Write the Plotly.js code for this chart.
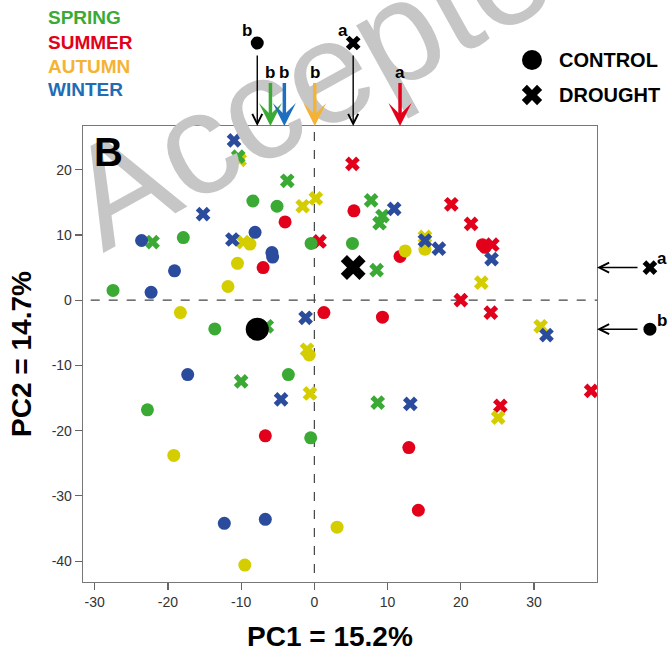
<!DOCTYPE html>
<html>
<head>
<meta charset="utf-8">
<script src="https://cdn.plot.ly/plotly-3.0.1.min.js"></script>
<style>html,body{margin:0;padding:0;background:#fff;}#chart{width:670px;height:663px;}</style>
</head>
<body>
<div id="chart"></div>
<script>
// ---- data (PC1, PC2 scores) ----
const springCtrlX = [-8.4, -5.1, -17.9, -0.45, 5.2, -27.5, -13.6, -3.55, -22.8, -0.5];
const springCtrlY = [15.2, 14.4, 9.6, 8.7, 8.7, 1.5, -4.4, -11.4, -16.8, -21.1];
const springDrX = [-10.4, -3.7, -22.1, -6.5, -10.0, 7.75, 9.3, 8.9, 8.5, 8.65];
const springDrY = [22.0, 18.3, 8.9, -4.0, -12.45, 15.3, 12.9, 11.8, 4.6, -15.7];

const summerCtrlX = [-4.0, -7.0, 1.3, 5.4, 11.7, 22.95, 23.3, 9.3, -6.7, 12.9, 14.2];
const summerCtrlY = [12.0, 5.0, -1.9, 13.7, 6.7, 8.5, 8.1, -2.6, -20.8, -22.6, -32.2];
const summerDrX = [0.7, 5.2, 18.7, 21.4, 24.3, 20.0, 24.1, 37.8, 25.4];
const summerDrY = [9.0, 20.9, 14.7, 11.7, 8.5, 0.0, -1.9, -13.9, -16.2];

const autumnCtrlX = [-8.8, -10.5, -11.8, -18.3, -0.7, 12.4, 15.1, -19.2, 3.1, -9.5];
const autumnCtrlY = [8.6, 5.65, 2.1, -1.9, -8.4, 7.55, 7.8, -23.8, -34.8, -40.6];
const autumnDrX = [-10.2, 0.2, -1.6, -9.7, -1.0, -0.6, 15.1, 22.8, 30.9, 25.1];
const autumnDrY = [21.5, 15.6, 14.4, 8.9, -7.6, -14.3, 9.7, 2.7, -4.0, -18.0];

const winterCtrlX = [-8.1, -23.6, -5.8, -5.7, -19.1, -22.3, -17.3, -12.3, -6.7];
const winterCtrlY = [10.4, 9.15, 7.3, 6.6, 4.5, 1.2, -11.4, -34.2, -33.6];
const winterDrX = [-10.97, -15.2, -11.2, -1.2, -4.55, 10.9, 15.1, 17.0, 24.2, 31.7, 13.1];
const winterDrY = [24.5, 13.2, 9.3, -2.7, -15.2, 14.0, 9.15, 7.9, 6.3, -5.35, -15.9];

// treatment centroids (CONTROL, DROUGHT)
const treatments = ['CONTROL', 'DROUGHT'];
const treatmentPC1 = [-7.8, 5.3];
const treatmentPC2 = [-4.45, 5.0];
const treatmentPC1Letters = ['b', 'a'];
const treatmentPC2Letters = ['b', 'a'];

// season means on PC1 (SPRING, SUMMER, AUTUMN, WINTER)
const seasons = ['SPRING', 'SUMMER', 'AUTUMN', 'WINTER'];
const seasonPC1 = [-6.0, 11.7, 0.05, -4.1];
const seasonLetters = ['b', 'a', 'b', 'b'];

// tick labels
const xTicks = [-30, -20, -10, 0, 10, 20, 30];
const yTicks = [-40, -30, -20, -10, 0, 10, 20];

// ---- styles ----
const FONT = 'Liberation Sans, Arial, sans-serif';
const pointCol = { SPRING: '#3aaa35', SUMMER: '#e2001a', AUTUMN: '#d4cd00', WINTER: '#2b4c9c' };
const textCol = { SPRING: '#3aaa35', SUMMER: '#e2001a', AUTUMN: '#f5b335', WINTER: '#1f6db5' };
const arrowCol = { SPRING: '#3aaa35', SUMMER: '#e2001a', AUTUMN: '#f5b335', WINTER: '#1f6fc0' };

function pts(x, y, season, sym) {
  return {
    type: 'scatter', mode: 'markers', x: x, y: y, showlegend: false, hoverinfo: 'skip',
    marker: { symbol: sym, size: 13, opacity: 1, color: pointCol[season], line: { width: 0 } }
  };
}

const traces = [
  pts(summerCtrlX, summerCtrlY, 'SUMMER', 'circle'),
  pts(summerDrX, summerDrY, 'SUMMER', 'x'),
  pts(autumnCtrlX, autumnCtrlY, 'AUTUMN', 'circle'),
  pts(autumnDrX, autumnDrY, 'AUTUMN', 'x'),
  pts(springCtrlX, springCtrlY, 'SPRING', 'circle'),
  pts(springDrX, springDrY, 'SPRING', 'x'),
  pts(winterCtrlX, winterCtrlY, 'WINTER', 'circle'),
  pts(winterDrX, winterDrY, 'WINTER', 'x'),
  // centroids
  { type: 'scatter', mode: 'markers', x: treatmentPC1, y: treatmentPC2, showlegend: false, hoverinfo: 'skip',
    marker: { symbol: ['circle', 'x'], size: [23, 22], opacity: 1, color: '#000', line: { width: 0 } } }
];

// ---- marks outside the plot area, drawn as pixel-sized shapes ----
function xPath(size) {
  const r = +(size * 0.2828).toFixed(2);
  const v = [[0, r], [r, 2 * r], [2 * r, r], [r, 0], [2 * r, -r], [r, -2 * r], [0, -r], [-r, -2 * r], [-2 * r, -r], [-r, 0], [-2 * r, r], [-r, 2 * r]];
  return v.map((p, i) => (i === 0 ? 'M' : 'L') + p[0] + ',' + p[1]).join(' ') + ' Z';
}
function markShape(kind, size, xref, xa, yref, ya) {
  const base = { xref: xref, yref: yref, xsizemode: 'pixel', ysizemode: 'pixel', xanchor: xa, yanchor: ya,
    fillcolor: '#000', line: { width: 0 }, layer: 'above' };
  if (kind === 'circle') {
    return Object.assign(base, { type: 'circle', x0: -size / 2, x1: size / 2, y0: -size / 2, y1: size / 2 });
  }
  return Object.assign(base, { type: 'path', path: xPath(size) });
}
const kinds = ['circle', 'x'];
const topMarkY = 1.182;     // paper y of the row above the plot
const rightMarkX = 1.103;   // paper x of the column right of the plot
const keyX = 0.8735, keyY = [1.1447, 1.068];

const shapes = [
  { type: 'line', xref: 'x', yref: 'paper', x0: 0, x1: 0, y0: 0.02, y1: 1, line: { color: '#444', width: 1.2, dash: 'dash' }, layer: 'below' },
  { type: 'line', xref: 'paper', yref: 'y', x0: 0.015, x1: 1, y0: 0, y1: 0, line: { color: '#444', width: 1.2, dash: 'dash' }, layer: 'below' }
];
treatments.forEach((t, i) => {
  shapes.push(markShape(kinds[i], 13, 'x', treatmentPC1[i], 'paper', topMarkY));
  shapes.push(markShape(kinds[i], 13, 'paper', rightMarkX, 'y', treatmentPC2[i]));
  shapes.push(markShape(kinds[i], i === 0 ? 20 : 18, 'paper', keyX, 'paper', keyY[i]));
});

const annotations = [];
// watermark
annotations.push({ xref: 'paper', yref: 'paper', x: 0.506, y: 1.138, text: 'Accepted', showarrow: false,
  textangle: -29, font: { family: FONT, size: 145, color: '#c6c6c6' }, xanchor: 'center', yanchor: 'middle' });
// panel letter
annotations.push({ xref: 'paper', yref: 'paper', x: 0.018, y: 0.995, xanchor: 'left', yanchor: 'top',
  text: '<b>B</b>', showarrow: false, font: { family: FONT, size: 40, color: '#000' } });
// season key
seasons.forEach((s, i) => {
  annotations.push({ xref: 'paper', yref: 'paper', x: (46 - 83) / 514, y: (582 - (18 + 24 * i)) / 456,
    xanchor: 'left', yanchor: 'middle', text: '<b>' + s + '</b>', showarrow: false,
    font: { family: FONT, size: 19, color: textCol[s] } });
});
// treatment key text
treatments.forEach((t, i) => {
  annotations.push({ xref: 'paper', yref: 'paper', x: (557 - 83) / 514, y: (582 - (60 + 35 * i)) / 456,
    xanchor: 'left', yanchor: 'middle', text: '<b>' + t + '</b>', showarrow: false,
    font: { family: FONT, size: 20, color: '#000' } });
});
// season arrows on top
seasons.forEach((s, i) => {
  annotations.push({ xref: 'x', yref: 'paper', x: seasonPC1[i], y: 1, ax: 0, ay: -54, axref: 'pixel', ayref: 'pixel',
    text: '<b>' + seasonLetters[i] + '</b>', showarrow: true, arrowhead: 3, arrowsize: 1.1, arrowwidth: 3.5,
    arrowcolor: arrowCol[s], standoff: 0, font: { family: FONT, size: 17, color: '#000' } });
});
// treatment arrows on top
treatments.forEach((t, i) => {
  annotations.push({ xref: 'x', yref: 'paper', x: treatmentPC1[i], y: 1, ax: 0, ay: -72,
    text: '', showarrow: true, arrowhead: 5, arrowsize: 1.4, arrowwidth: 1.4, arrowcolor: '#000', standoff: 0 });
  annotations.push({ xref: 'x', yref: 'paper', x: treatmentPC1[i], y: topMarkY, xshift: -10, yshift: 13,
    xanchor: 'center', yanchor: 'middle',
    text: '<b>' + treatmentPC1Letters[i] + '</b>', showarrow: false, font: { family: FONT, size: 17, color: '#000' } });
});
// treatment arrows on right
treatments.forEach((t, i) => {
  annotations.push({ xref: 'paper', yref: 'y', x: 1, y: treatmentPC2[i], ax: 42, ay: 0,
    text: '', showarrow: true, arrowhead: 5, arrowsize: 1.4, arrowwidth: 1.4, arrowcolor: '#000', standoff: 0 });
  annotations.push({ xref: 'paper', yref: 'y', x: rightMarkX, y: treatmentPC2[i], xshift: 12, yshift: 9,
    xanchor: 'center', yanchor: 'middle',
    text: '<b>' + treatmentPC2Letters[i] + '</b>', showarrow: false, font: { family: FONT, size: 17, color: '#000' } });
});
// x axis title
annotations.push({ xref: 'paper', yref: 'paper', x: (330 - 83) / 514, y: (582 - 636) / 456, xanchor: 'center', yanchor: 'middle',
  text: '<b>PC1 = 15.2%</b>', showarrow: false, font: { family: FONT, size: 28, color: '#000' } });

const layout = {
  width: 670, height: 663,
  margin: { l: 83, r: 73, t: 126, b: 81, pad: 0 },
  paper_bgcolor: '#fff', plot_bgcolor: 'rgba(0,0,0,0)',
  font: { family: FONT, color: '#222' },
  showlegend: false,
  xaxis: {
    range: [-31.6, 38.6], tickvals: xTicks, ticktext: xTicks.map(String), ticks: 'outside', ticklen: 7, tickwidth: 1.2,
    tickcolor: '#666', showline: true, mirror: true, linecolor: '#777', linewidth: 1.3, zeroline: false, showgrid: false,
    tickfont: { family: FONT, size: 14, color: '#333' }
  },
  yaxis: {
    range: [-43.2, 26.7], tickvals: yTicks, ticktext: yTicks.map(String), ticks: 'outside', ticklen: 7, tickwidth: 1.2,
    tickcolor: '#666', showline: true, mirror: true, linecolor: '#777', linewidth: 1.3, zeroline: false, showgrid: false,
    tickfont: { family: FONT, size: 14, color: '#333' },
    title: { text: '<b>PC2 = 14.7%</b>', font: { family: FONT, size: 28, color: '#000' }, standoff: 12 }
  },
  shapes: shapes,
  annotations: annotations
};

Plotly.newPlot('chart', traces, layout, { displayModeBar: false, staticPlot: true });
</script>
</body>
</html>
